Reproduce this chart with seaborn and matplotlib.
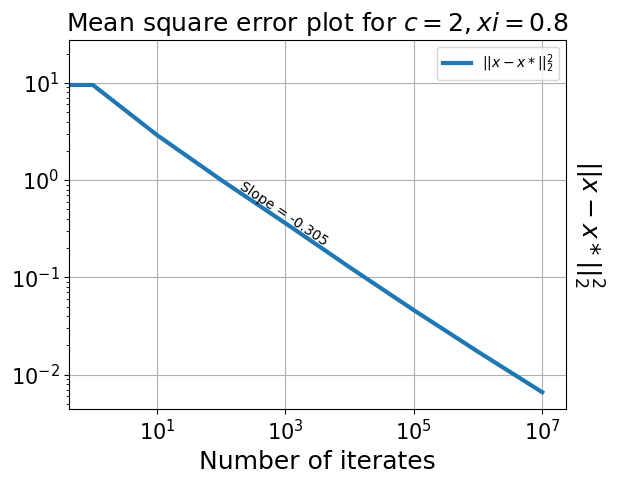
import numpy as np
import pandas as pd
import seaborn as sns
import matplotlib.pyplot as plt

# values (log-log)
iterates = [0, 1, 10, 100, 1e3, 1e4, 1e5, 1e6, 1e7]
mse = [9.5, 9.5, 2.9, 1.0, 0.36, 0.127, 0.046, 0.0172, 0.0066]
slope_text = 'Slope = -0.305'

df = pd.DataFrame({'it': iterates, 'err': mse})

fig, ax = plt.subplots(figsize=(6.23, 4.83), dpi=100)
fig.subplots_adjust(left=0.111, right=0.9085, top=0.918, bottom=0.153)
ax.set_xscale('log')
ax.set_yscale('log')

sns.lineplot(data=df, x='it', y='err', ax=ax, estimator=None, color='#1f77b4',
             linewidth=3, label=r'$||x-x*||_2^2$')

ax.set_xlim(10 ** -0.37, 10 ** 7.37)
ax.set_ylim(10 ** -2.354, 10 ** 1.444)

ax.text(950, 0.45, slope_text, rotation=-34, fontsize=10, ha='center', va='center')

ax.set_title(r'Mean square error plot for $c = 2, xi = 0.8$', fontsize=18)
ax.set_xlabel('Number of iterates', fontsize=18)
ax.set_ylabel(r'$||x-x*||_2^2$', fontsize=18, rotation=270, labelpad=28)
ax.yaxis.set_label_position('right')
ax.tick_params(axis='both', which='major', labelsize=15)
ax.grid(True, which='major', color='#b0b0b0')
ax.legend(loc='upper right', fontsize=10)

plt.savefig('out.png', dpi=100)
